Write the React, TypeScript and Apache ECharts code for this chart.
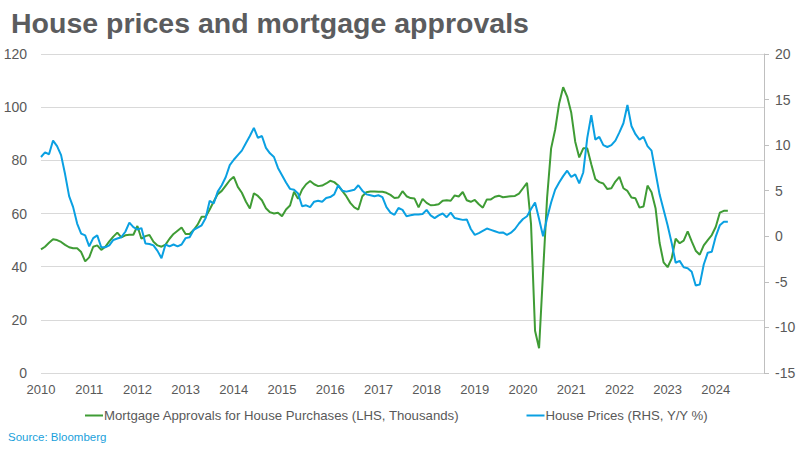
import React, { useEffect, useRef } from "react";
import * as echarts from "echarts";

const startYear = 2010;
const yearLabels = [2010, 2011, 2012, 2013, 2014, 2015, 2016, 2017, 2018, 2019, 2020, 2021, 2022, 2023, 2024];
const leftTicks = [0, 20, 40, 60, 80, 100, 120];
const rightTicks = [-15, -10, -5, 0, 5, 10, 15, 20];

// Monthly values from Jan 2010
const approvals = [
  46.5, 47.5, 49, 50.3, 50, 49.3, 48.2, 47.3, 46.9, 46.9, 45.5, 42,
  43.5, 47.5, 48, 46.3, 47.5, 49.5, 51.3, 52.8, 51, 51.8, 52, 52,
  55.3, 50.5, 51.5, 51.9, 49.4, 48, 47.5, 48.3, 50.5, 52.3, 53.5, 54.7,
  52.3, 52.3, 53.8, 55.8, 58.8, 58.8, 61.5, 64.5, 67.3, 68.5, 70.5, 72.5,
  73.8, 70, 67.8, 64.5, 61.9, 67.6, 66.6, 65, 62, 60.5, 60, 60.3,
  59, 61.5, 63, 68.2, 65.5, 69, 71, 72.2, 71, 70.3, 70.5, 71.3,
  72.3, 71.8, 70.5, 68.5, 66.5, 64, 62.3, 61.5, 66.5, 68, 68.3, 68.3,
  68.2, 68.2, 67.8, 67, 65.8, 66, 68.4, 66.5, 65.8, 65.6, 62.3, 65.5,
  64, 63.1, 63.2, 63.5, 64.8, 65, 64.8, 66.8, 66.4, 68.1, 65, 64.4,
  65.1, 63.5, 62.2, 65.3, 65.3, 66.3, 66.7, 66.1, 66.3, 66.5, 66.6, 67.5,
  69.5, 71.5, 56, 15.9, 9.3, 38, 66, 84.5, 91.5, 101.4, 107.5, 104,
  98, 87, 81.1, 84.5, 84.5, 78.5, 73, 71.8, 71.3, 69.2, 69.5, 72,
  73.8, 69.5, 68.5, 66, 65.7, 62.2, 62.6, 70.5, 68, 62, 49, 41.6,
  39.8, 43, 50.5, 48.8, 49.8, 53.3, 49.5, 46, 44.5, 48, 50, 51.9,
  55, 60.3, 61, 61,
];

const housePrices = [
  8.7, 9.2, 9.0, 10.5, 9.9, 8.9, 6.8, 4.4, 3.2, 1.4, 0.3, 0.1,
  -1.1, -0.2, 0.1, -1.2, -1.2, -1.0, -0.4, -0.25, -0.1, 0.5, 1.5, 1.0,
  0.75, 0.9, -0.8, -0.85, -1.0, -1.6, -2.4, -0.9, -1.1, -0.9, -1.1, -0.9,
  -0.2, -0.1, 0.7, 0.95, 1.2, 2.0, 3.9, 3.6, 4.9, 5.6, 6.5, 7.8,
  8.4, 8.9, 9.4, 10.2, 11.0, 11.9, 10.8, 11.0, 9.7, 9.1, 8.7, 7.5,
  6.7, 5.9, 5.2, 5.1, 4.7, 3.3, 3.4, 3.2, 3.8, 3.9, 3.8, 4.2,
  4.3, 4.6, 5.6, 5.0, 4.9, 5.0, 5.1, 5.6, 5.0, 4.6, 4.5, 4.4,
  4.5, 4.3, 3.2, 2.6, 2.35, 3.1, 2.9, 2.2, 2.3, 2.4, 2.4, 2.45,
  2.9, 2.3, 2.0, 2.3, 2.5, 2.1, 2.6, 2.0, 1.9, 1.8, 1.85, 0.8,
  0.15, 0.35, 0.6, 0.85, 0.7, 0.55, 0.4, 0.42, 0.15, 0.4, 0.8, 1.4,
  1.9, 2.2, 3.0, 3.7, 1.9, 0.0, 2.0, 3.7, 5.1, 5.9, 6.6, 7.2,
  6.5, 6.8, 5.8, 7.0, 10.8, 13.3, 10.6, 10.9, 10.0, 9.8, 10.0, 10.5,
  11.4, 12.4, 14.4, 12.1, 11.2, 10.6, 10.9, 9.9, 9.4, 7.0, 4.6, 2.9,
  1.2, -0.7, -2.9, -2.7, -3.4, -3.5, -3.9, -5.4, -5.3, -3.1, -1.8, -1.7,
  0.0, 1.2, 1.6, 1.6,
];

const seriesNames = [
  "Mortgage Approvals for House Purchases (LHS, Thousands)",
  "House Prices (RHS, Y/Y %)",
];

const GREEN = "#3f9c35";
const BLUE = "#0aa0e2";
const TEXT = "#595959";
const FONT = "'Liberation Sans', Arial, sans-serif";

export default function App() {
  const ref = useRef<HTMLDivElement>(null);

  useEffect(() => {
    document.body.style.margin = "0";
    const chart = echarts.init(ref.current!, undefined, { renderer: "svg" });
    const toXY = (arr: number[]) => arr.map((v, i) => [startYear + i / 12, v]);

    chart.setOption({
      animation: false,
      backgroundColor: "#ffffff",
      textStyle: { fontFamily: FONT },
      title: {
        text: "House prices and mortgage approvals",
        left: 6,
        top: 3,
        textStyle: {
          fontFamily: FONT,
          fontSize: 28.5,
          fontWeight: "bold",
          color: "#5b5c5e",
        },
      },
      graphic: [
        {
          type: "text",
          left: 8,
          top: 431,
          style: {
            text: "Source: Bloomberg",
            fill: "#1a9fdb",
            font: `11.5px ${FONT}`,
          },
        },
      ],
      legend: {
        left: 80,
        top: 404,
        itemGap: 67,
        itemWidth: 18,
        itemHeight: 2,
        icon: "rect",
        textStyle: { fontFamily: FONT, fontSize: 13.2, color: TEXT, padding: [0, 0, 0, -4] },
        data: seriesNames,
      },
      grid: { left: 41, right: 36, top: 54, bottom: 77, containLabel: false },
      xAxis: {
        type: "value",
        min: yearLabels[0],
        max: yearLabels[yearLabels.length - 1] + 1,
        interval: 1,
        axisLine: { show: false },
        axisTick: { show: false },
        splitLine: { show: false },
        axisLabel: {
          color: TEXT,
          fontFamily: FONT,
          fontSize: 13,
          margin: 10,
          showMaxLabel: false,
          formatter: (v: number) => (yearLabels.includes(v) ? String(v) : ""),
        },
      },
      yAxis: [
        {
          type: "value",
          min: leftTicks[0],
          max: leftTicks[leftTicks.length - 1],
          interval: 20,
          axisLine: { show: false },
          axisTick: { show: false },
          splitLine: { lineStyle: { color: "#d9d9d9", width: 1 } },
          axisLabel: { color: TEXT, fontFamily: FONT, fontSize: 14, margin: 14 },
        },
        {
          type: "value",
          min: rightTicks[0],
          max: rightTicks[rightTicks.length - 1],
          interval: 5,
          position: "right",
          axisLine: { show: true, lineStyle: { color: "#bfbfbf", width: 1 } },
          axisTick: { show: true, length: 5, lineStyle: { color: "#bfbfbf" } },
          splitLine: { show: false },
          axisLabel: { color: TEXT, fontFamily: FONT, fontSize: 14, margin: 11 },
        },
      ],
      series: [
        {
          name: seriesNames[0],
          type: "line",
          yAxisIndex: 0,
          showSymbol: false,
          symbol: "none",
          color: GREEN,
          lineStyle: { color: GREEN, width: 2 },
          data: toXY(approvals),
        },
        {
          name: seriesNames[1],
          type: "line",
          yAxisIndex: 1,
          showSymbol: false,
          symbol: "none",
          color: BLUE,
          lineStyle: { color: BLUE, width: 2 },
          data: toXY(housePrices),
        },
      ],
    });

    return () => chart.dispose();
  }, []);

  return <div ref={ref} style={{ width: 800, height: 450 }} />;
}
